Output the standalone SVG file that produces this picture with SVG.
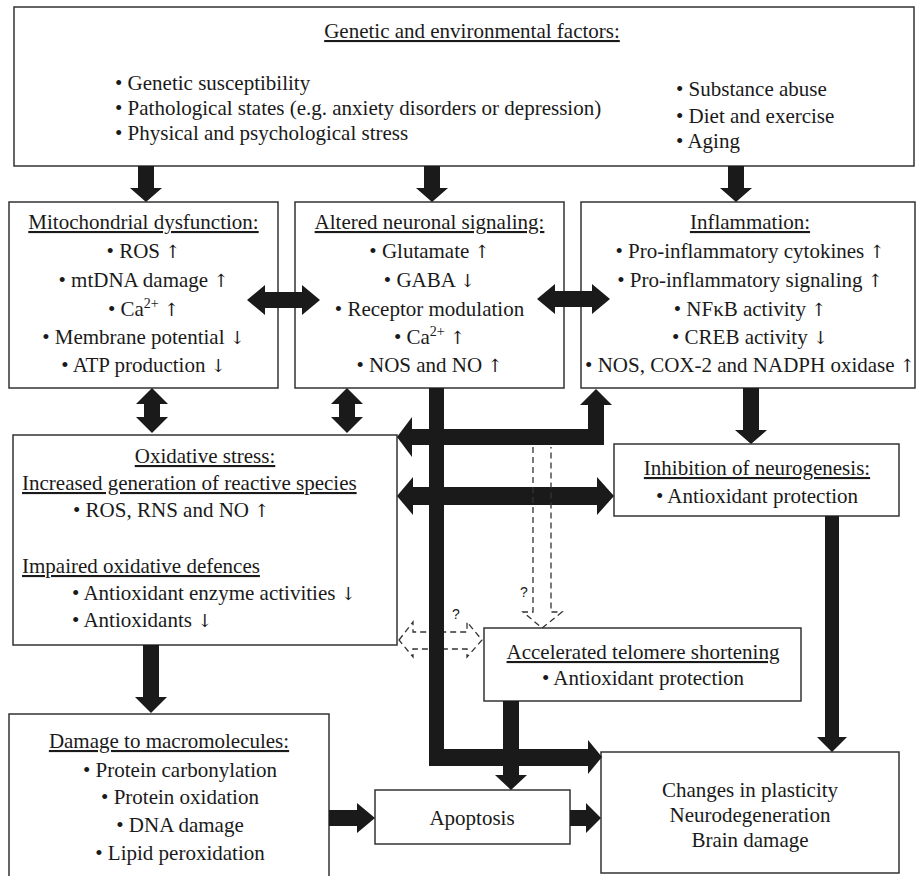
<svg xmlns="http://www.w3.org/2000/svg" width="918" height="876" viewBox="0 0 918 876">
<style>
.box{fill:#fff;stroke:#333;stroke-width:1.5}
text{font-family:"Liberation Serif","DejaVu Serif","Times New Roman",serif;font-size:21px;fill:#1a1a1a}
.ar{font-family:"DejaVu Serif","DejaVu Sans",serif;font-size:18px;fill:#1a1a1a}
.c{text-anchor:middle}
.u{text-decoration:underline}
.q{font-family:"Liberation Sans",Arial,sans-serif;font-size:14px}
.blk{fill:#1a1a1a;stroke:none}
.dash{fill:none;stroke:#333;stroke-width:1.3;stroke-dasharray:6 4}
</style>
<rect width="918" height="876" fill="#fff"/>

<g id="factors">
<rect class="box" x="14" y="7" width="900" height="159"/>
<text class="c u" x="472" y="38">Genetic and environmental factors:</text>
<text x="115" y="90">• Genetic susceptibility</text>
<text x="115" y="115">• Pathological states (e.g. anxiety disorders or depression)</text>
<text x="115" y="140">• Physical and psychological stress</text>
<text x="676" y="96">• Substance abuse</text>
<text x="676" y="123">• Diet and exercise</text>
<text x="676" y="148">• Aging</text>
</g>

<g id="mito">
<rect class="box" x="9" y="202" width="269" height="186"/>
<text class="c u" x="143.5" y="229">Mitochondrial dysfunction:</text>
<text class="c" x="143.5" y="258">• ROS <tspan class="ar">↑</tspan></text>
<text class="c" x="143.5" y="287">• mtDNA damage <tspan class="ar">↑</tspan></text>
<text class="c" x="143.5" y="316">• Ca<tspan dy="-8" font-size="14">2+</tspan><tspan dy="8"> </tspan><tspan class="ar">↑</tspan></text>
<text class="c" x="143.5" y="344">• Membrane potential <tspan class="ar">↓</tspan></text>
<text class="c" x="143.5" y="372">• ATP production <tspan class="ar">↓</tspan></text>
</g>

<g id="neuronal">
<rect class="box" x="295" y="202" width="269" height="186"/>
<text class="c u" x="429.5" y="229">Altered neuronal signaling:</text>
<text class="c" x="429.5" y="258">• Glutamate <tspan class="ar">↑</tspan></text>
<text class="c" x="429.5" y="287">• GABA <tspan class="ar">↓</tspan></text>
<text class="c" x="429.5" y="316">• Receptor modulation</text>
<text class="c" x="429.5" y="344">• Ca<tspan dy="-8" font-size="14">2+</tspan><tspan dy="8"> </tspan><tspan class="ar">↑</tspan></text>
<text class="c" x="429.5" y="372">• NOS and NO <tspan class="ar">↑</tspan></text>
</g>

<g id="inflammation">
<rect class="box" x="581" y="202" width="334" height="186"/>
<text class="c u" x="750" y="229">Inflammation:</text>
<text class="c" x="750" y="258">• Pro-inflammatory cytokines <tspan class="ar">↑</tspan></text>
<text class="c" x="750" y="287">• Pro-inflammatory signaling <tspan class="ar">↑</tspan></text>
<text class="c" x="750" y="316">• NFκB activity <tspan class="ar">↑</tspan></text>
<text class="c" x="750" y="344">• CREB activity <tspan class="ar">↓</tspan></text>
<text class="c" x="750" y="372">• NOS, COX-2 and NADPH oxidase <tspan class="ar">↑</tspan></text>
</g>

<g id="oxidative">
<rect class="box" x="13" y="435" width="384" height="210"/>
<text class="c u" x="205" y="463">Oxidative stress:</text>
<text class="u" x="22" y="490">Increased generation of reactive species</text>
<text x="73" y="517">• ROS, RNS and NO <tspan class="ar">↑</tspan></text>
<text class="u" x="22" y="573">Impaired oxidative defences</text>
<text x="72" y="600">• Antioxidant enzyme activities <tspan class="ar">↓</tspan></text>
<text x="72" y="627">• Antioxidants <tspan class="ar">↓</tspan></text>
</g>

<g id="neurogenesis">
<rect class="box" x="614" y="444" width="285" height="72"/>
<text class="c u" x="757" y="475">Inhibition of neurogenesis:</text>
<text class="c" x="757" y="503">• Antioxidant protection</text>
</g>

<g id="telomere">
<rect class="box" x="484" y="628" width="317" height="73"/>
<text class="c u" x="643" y="659">Accelerated telomere shortening</text>
<text class="c" x="643" y="685">• Antioxidant protection</text>
</g>

<g id="damage">
<rect class="box" x="9" y="714" width="320" height="170"/>
<text class="c u" x="169" y="748">Damage to macromolecules:</text>
<text class="c" x="180" y="777">• Protein carbonylation</text>
<text class="c" x="180" y="804">• Protein oxidation</text>
<text class="c" x="180" y="832">• DNA damage</text>
<text class="c" x="180" y="860">• Lipid peroxidation</text>
</g>

<g id="apoptosis">
<rect class="box" x="375" y="790" width="195" height="54"/>
<text class="c" x="472" y="825">Apoptosis</text>
</g>

<g id="outcome">
<rect class="box" x="601" y="752" width="298" height="121"/>
<text class="c" x="750" y="797">Changes in plasticity</text>
<text class="c" x="750" y="822">Neurodegeneration</text>
<text class="c" x="750" y="847">Brain damage</text>
</g>

<g id="connectors">
<polygon class="blk" points="138,166 154,166 154,188 162,188 146,202 130,188 138,188"/>
<polygon class="blk" points="424,166 440,166 440,188 448,188 432,202 416,188 424,188"/>
<polygon class="blk" points="728,166 744,166 744,188 752,188 736,202 720,188 728,188"/>
<polygon class="blk" points="247,300 265,285 265,292 302,292 302,285 320,300 302,315 302,308 265,308 265,315"/>
<polygon class="blk" points="537,299 555,284 555,291 592,291 592,284 610,299 592,314 592,307 555,307 555,314"/>
<polygon class="blk" points="152,388 168,404 160,404 160,417 168,417 152,433 136,417 144,417 144,404 136,404"/>
<polygon class="blk" points="347,388 363,404 355,404 355,417 363,417 347,433 331,417 339,417 339,404 331,404"/>
<polygon class="blk" points="596,389 612,405 604,405 604,445 412,445 412,457 397,437 412,417 412,429 588,429 588,405 580,405"/>
<polygon class="blk" points="397,496 413,477 413,487 597,487 597,477 614,496 597,515 597,505 413,505 413,515"/>
<polyline class="dash" points="533,447 533,612 523,612 542,628 562,612 551,612 551,447"/>
<polygon class="dash" points="399,640 413,622 413,632 467,632 467,622 482,640 467,657 467,649 413,649 413,657"/>
<text class="q" x="520" y="597">?</text>
<text class="q" x="452" y="619">?</text>
<polygon class="blk" points="429,388 444,388 444,749 588,749 588,740 602,757 588,774 588,766 429,766"/>
<polygon class="blk" points="743,388 759,388 759,430 767,430 751,444 735,430 743,430"/>
<polygon class="blk" points="825,516 839,516 839,737 847,737 832,752 817,737 825,737"/>
<polygon class="blk" points="143,645 159,645 159,697 167,697 151,713 135,697 143,697"/>
<polygon class="blk" points="503,701 519,701 519,775 527,775 511,790 495,775 503,775"/>
<polygon class="blk" points="329,810 357,810 357,803 375,818 357,833 357,826 329,826"/>
<polygon class="blk" points="570,810 586,810 586,803 601,818 586,833 586,826 570,826"/>
</g>
</svg>
